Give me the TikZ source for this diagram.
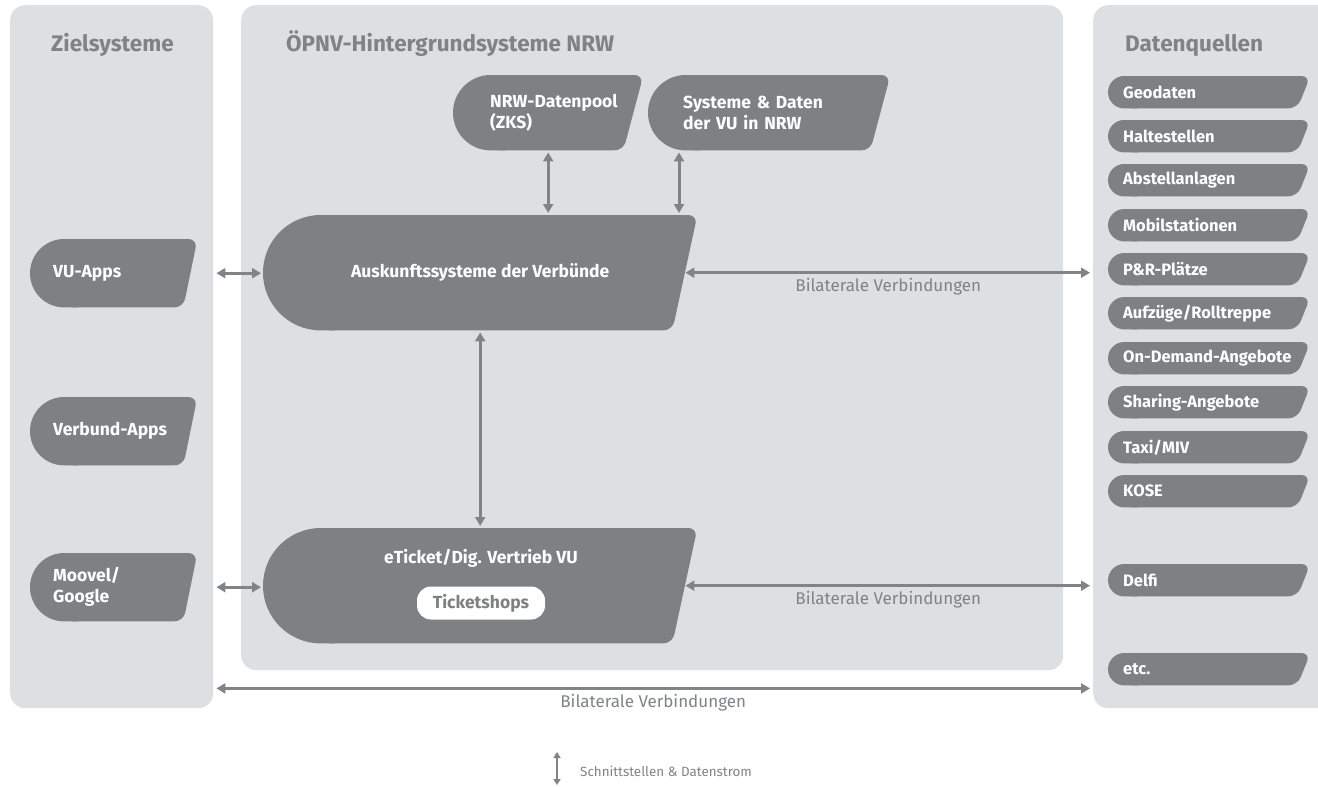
\documentclass[tikz,border=0pt]{standalone}
\usepackage{fontspec}
\setmainfont{Fira Sans}
\usetikzlibrary{arrows.meta,calc,positioning}
\pgfdeclarelayer{back}
\pgfdeclarelayer{mid}
\pgfsetlayers{back,mid,main}
\definecolor{panelgray}{HTML}{DCE0E2}
\definecolor{boxgray}{HTML}{7D8183}
\definecolor{linegray}{HTML}{808487}
\definecolor{textgray}{HTML}{7F8386}

% slanted box behind a named node: round left end, slanted right edge
\newcommand{\blobfill}[2]{%
  \fill[boxgray] let \p1=(#1.north west), \p2=(#1.south east), \n1={(\y1-\y2)/2} in
    (\x1+\n1,\y1) arc[start angle=90, end angle=270, radius=\n1] -- (\x1+\n1+14,\y2) -- (\x1+\n1+14,\y1) -- cycle;
  \fill[boxgray, rounded corners=9pt] let \p1=(#1.north west), \p2=(#1.south east), \n1={(\y1-\y2)/2} in
    (\x1+\n1,\y1) -- (\x2,\y1) -- (\x2-#2,\y2) -- (\x1+\n1,\y2) -- cycle;}

\tikzset{
  panel/.style={fill=panelgray, rounded corners=15pt, inner sep=0pt, anchor=north west},
  title/.style={font=\fontsize{22.5}{26}\selectfont\bfseries, text=textgray, anchor=base west, inner sep=0pt},
  blob/.style={anchor=north west, inner ysep=0pt, text=white, font=\fontsize{17.5}{21}\selectfont\bfseries, align=left},
  srcbox/.style={blob, minimum height=32pt, text width=180pt, inner xsep=15pt, font=\fontsize{16.5}{19}\selectfont\bfseries},
  appbox/.style={blob, minimum height=68pt, text width=121pt, inner xsep=23pt},
  bigbox/.style={blob, minimum height=115pt, minimum width=434pt, inner xsep=0pt},
  conn/.style={draw=linegray, line width=3pt, {Triangle[length=9pt,width=10pt]}-{Triangle[length=9pt,width=10pt]}},
  bilat/.style={font=\fontsize{17}{20}\selectfont, text=textgray},
}

\begin{document}
\begin{tikzpicture}[x=1pt, y=-1pt]
  \useasboundingbox (0,0) rectangle (1318,787);

  % panels
  \begin{pgfonlayer}{back}
    \node[panel, minimum width=203pt, minimum height=703pt] (ziel) at (10,5) {};
    \node[panel, minimum width=822pt, minimum height=665pt] (hgs) at (241,5) {};
    \node[panel, minimum width=260pt, minimum height=703pt] (quellen) at (1093,5) {};
  \end{pgfonlayer}
  \node[title] (zieltitle) at (51,51) {Zielsysteme};
  \node[title] (hgstitle) at (286,51) {ÖPNV-Hintergrundsysteme NRW};
  \node[title] (quellentitle) at (1125,51) {Datenquellen};

  % Zielsysteme
  \node[appbox] (vuapps) at (30,239) {VU-Apps};
  \node[appbox] (verbund) at (30,397) {Verbund-Apps};
  \node[appbox] (moovel) at (30,553) {Moovel/\\Google};

  % Hintergrundsysteme
  \node[blob, minimum height=75pt, text width=116pt, inner xsep=37pt] (datenpool) at (453,75) {\mbox{NRW-Datenpool}\\(ZKS)};
  \node[blob, minimum height=75pt, text width=172pt, inner xsep=35pt] (systeme) at (648,75) {Systeme \& Daten\\der VU in NRW};
  \node[bigbox, align=center] (auskunft) at (263,215) {Auskunftssysteme der Verbünde};
  \node[bigbox] (eticket) at (263,528) {};
  \node[text=white, font=\fontsize{17.5}{21}\selectfont\bfseries] (etlabel) at (481,558) {eTicket/Dig. Vertrieb VU};
  \node[fill=white, rounded corners=14pt, minimum width=128pt, minimum height=33pt, inner sep=0pt,
        text=boxgray, font=\fontsize{17.5}{21}\selectfont\bfseries] (ticketshops) at (481,603) {Ticketshops};

  % Datenquellen
  \foreach \b/\y/\t in {geo/76/Geodaten, halt/120/Haltestellen, abstell/164/Abstellanlagen,
      mobil/209/Mobilstationen, pr/253/{P\&R-Plätze}, aufzug/297/{Aufzüge/Rolltreppe},
      ondemand/342/On-Demand-Angebote, sharing/386/Sharing-Angebote, taxi/431/{Taxi/MIV},
      kose/475/KOSE, delfi/564/Delfi, etc/653/etc.}
    \node[srcbox, minimum width=202pt, text width=172pt] (\b) at (1108,\y) {\mbox{\t}};

  \begin{pgfonlayer}{mid}
    \foreach \b in {geo,halt,abstell,mobil,pr,aufzug,ondemand,sharing,taxi,kose,delfi,etc}
      \blobfill{\b}{13};
    \foreach \b in {vuapps,verbund,moovel}
      \blobfill{\b}{14};
    \blobfill{datenpool}{20}
    \blobfill{systeme}{20}
    \blobfill{auskunft}{25}
    \blobfill{eticket}{25}
  \end{pgfonlayer}

  % connections
  \draw[conn, shorten <=19pt, shorten >=2pt] (vuapps.east) -- (vuapps.east -| auskunft.west);
  \draw[conn, shorten <=19pt, shorten >=2pt] (moovel.east) -- (moovel.east -| eticket.west);
  \draw[conn, shorten <=2pt, shorten >=2pt] (datenpool.south) -- (datenpool.south |- auskunft.north);
  \draw[conn, shorten <=2pt, shorten >=2pt] ([xshift=31pt]systeme.south west) -- ([xshift=31pt]systeme.south west |- auskunft.north);
  \draw[conn, shorten <=2pt, shorten >=2pt] (auskunft.south) -- (eticket.north);
  \draw[conn, shorten >=18pt] ([xshift=-12pt]auskunft.east) -- (auskunft.east -| pr.west)
    node[bilat, pos=0.48, below=1pt] {Bilaterale Verbindungen};
  \draw[conn, shorten >=18pt] ([xshift=-12pt]eticket.east) -- (eticket.east -| delfi.west)
    node[bilat, pos=0.48, below=1pt] {Bilaterale Verbindungen};
  \draw[conn, shorten <=3pt, shorten >=3pt] ([yshift=20pt]ziel.south east) -- ([yshift=20pt]quellen.south west)
    node[bilat, midway, below=1pt] {Bilaterale Verbindungen};

  % legend
  \coordinate (legup) at (557,752);
  \coordinate (legdown) at (557,785);
  \draw[draw=linegray, line width=2pt, {Triangle[length=6pt,width=7pt]}-{Triangle[length=6pt,width=7pt]}] (legup) -- (legdown);
  \node[anchor=west, inner sep=0pt, text=textgray, font=\fontsize{13.4}{16}\selectfont] (legend) at (580,771) {Schnittstellen \& Datenstrom};
\end{tikzpicture}
\end{document}
